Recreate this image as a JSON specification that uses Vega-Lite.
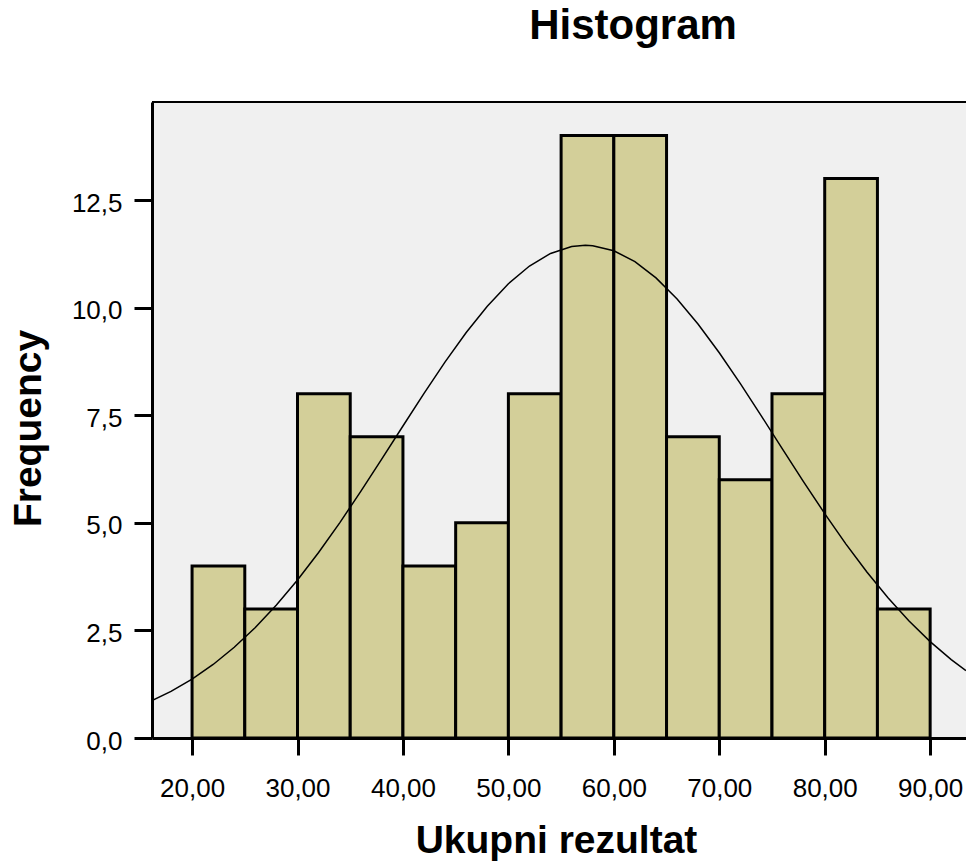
{
  "$schema": "https://vega.github.io/schema/vega-lite/v6.json",
  "autosize": {"type": "none"},
  "padding": {"left": 152, "top": 102, "right": 0, "bottom": 124},
  "width": 814,
  "height": 636,
  "background": "white",
  "title": {
    "text": "Histogram",
    "font": "Liberation Sans",
    "fontSize": 42,
    "fontWeight": "bold",
    "color": "black",
    "anchor": "middle",
    "frame": "group",
    "dx": 74,
    "baseline": "alphabetic",
    "offset": 20
  },
  "config": {
    "view": {"fill": "#F0F0F0", "stroke": null},
    "axis": {
      "domainColor": "black",
      "domainWidth": 3,
      "tickColor": "black",
      "tickWidth": 3,
      "grid": false,
      "labelFont": "Liberation Sans",
      "labelFontSize": 26,
      "labelColor": "black",
      "titleFont": "Liberation Sans",
      "titleFontSize": 39,
      "titleFontWeight": "bold",
      "titleColor": "black"
    }
  },
  "datasets": {
    "bins": [
      {"start": 20, "end": 25, "count": 4},
      {"start": 25, "end": 30, "count": 3},
      {"start": 30, "end": 35, "count": 8},
      {"start": 35, "end": 40, "count": 7},
      {"start": 40, "end": 45, "count": 4},
      {"start": 45, "end": 50, "count": 5},
      {"start": 50, "end": 55, "count": 8},
      {"start": 55, "end": 60, "count": 14},
      {"start": 60, "end": 65, "count": 14},
      {"start": 65, "end": 70, "count": 7},
      {"start": 70, "end": 75, "count": 6},
      {"start": 75, "end": 80, "count": 8},
      {"start": 80, "end": 85, "count": 13},
      {"start": 85, "end": 90, "count": 3}
    ],
    "curve": [
      {"x": 16.2, "y": 0.869},
      {"x": 18, "y": 1.084},
      {"x": 20, "y": 1.369},
      {"x": 22, "y": 1.709},
      {"x": 24, "y": 2.108},
      {"x": 26, "y": 2.567},
      {"x": 28, "y": 3.089},
      {"x": 30, "y": 3.671},
      {"x": 32, "y": 4.311},
      {"x": 34, "y": 5.0},
      {"x": 36, "y": 5.73},
      {"x": 38, "y": 6.485},
      {"x": 40, "y": 7.251},
      {"x": 42, "y": 8.01},
      {"x": 44, "y": 8.741},
      {"x": 46, "y": 9.422},
      {"x": 48, "y": 10.034},
      {"x": 50, "y": 10.556},
      {"x": 52, "y": 10.969},
      {"x": 54, "y": 11.261},
      {"x": 56, "y": 11.42},
      {"x": 57.3, "y": 11.45},
      {"x": 58, "y": 11.441},
      {"x": 60, "y": 11.323},
      {"x": 62, "y": 11.071},
      {"x": 64, "y": 10.692},
      {"x": 66, "y": 10.201},
      {"x": 68, "y": 9.615},
      {"x": 70, "y": 8.952},
      {"x": 72, "y": 8.234},
      {"x": 74, "y": 7.482},
      {"x": 76, "y": 6.714},
      {"x": 78, "y": 5.954},
      {"x": 80, "y": 5.216},
      {"x": 82, "y": 4.512},
      {"x": 84, "y": 3.857},
      {"x": 86, "y": 3.258},
      {"x": 88, "y": 2.717},
      {"x": 90, "y": 2.239},
      {"x": 92, "y": 1.823},
      {"x": 93.4, "y": 1.566}
    ]
  },
  "layer": [
    {
      "data": {"name": "bins"},
      "mark": {"type": "rect", "fill": "#D3CF99", "stroke": "black", "strokeWidth": 3, "clip": true},
      "encoding": {
        "x": {
          "field": "start",
          "type": "quantitative",
          "scale": {"domain": [16.2, 93.4], "nice": false, "zero": false},
          "axis": {
            "values": [20, 30, 40, 50, 60, 70, 80, 90],
            "labelExpr": "replace(format(datum.value, '.2f'), '.', ',')",
            "tickSize": 17,
            "labelPadding": 20,
            "title": "Ukupni rezultat",
            "titleX": 404,
            "titleY": 114,
            "titleBaseline": "alphabetic",
            "titleAnchor": "middle"
          }
        },
        "x2": {"field": "end"},
        "y": {
          "field": "count",
          "type": "quantitative",
          "scale": {"domain": [0, 14.78], "nice": false},
          "axis": {
            "values": [0, 2.5, 5, 7.5, 10, 12.5],
            "labelExpr": "replace(format(datum.value, '.1f'), '.', ',')",
            "tickSize": 18,
            "labelPadding": 12,
            "labelOffset": 3,
            "title": "Frequency",
            "titleX": -124,
            "titleY": 326,
            "titleAngle": 270,
            "titleBaseline": "middle",
            "titleAlign": "center"
          }
        },
        "y2": {"datum": 0}
      }
    },
    {
      "data": {"name": "curve"},
      "mark": {"type": "line", "color": "black", "strokeWidth": 1.5, "clip": true},
      "encoding": {
        "x": {"field": "x", "type": "quantitative"},
        "y": {"field": "y", "type": "quantitative"}
      }
    },
    {
      "data": {"values": [{"top": 14.78}]},
      "mark": {"type": "rule", "color": "black", "strokeWidth": 2},
      "encoding": {
        "y": {"field": "top", "type": "quantitative"}
      }
    }
  ]
}
